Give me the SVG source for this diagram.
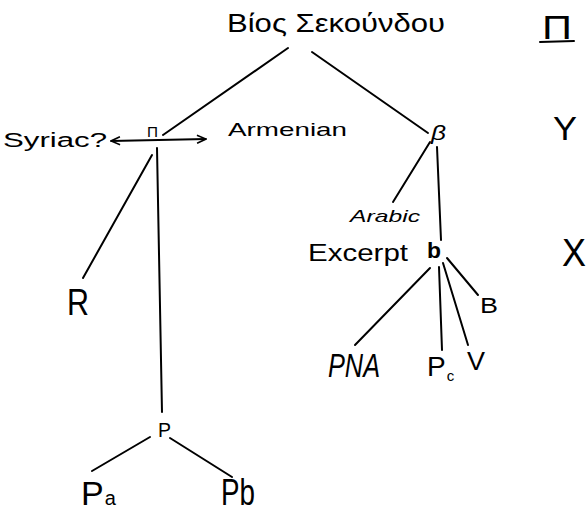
<svg xmlns="http://www.w3.org/2000/svg" width="588" height="514" viewBox="0 0 588 514">
<defs>
<style>
.t{font-family:"Liberation Sans","DejaVu Sans",sans-serif;fill:#000}
.i{font-style:italic}
.e{stroke:#000;stroke-width:2;fill:none;stroke-linecap:round}
</style>
<marker id="ah" viewBox="0 0 10 10" refX="10" refY="5" markerWidth="10" markerHeight="10" markerUnits="userSpaceOnUse" orient="auto-start-reverse">
<path d="M1,1 L10,5 L1,9" fill="none" stroke="#000" stroke-width="1.6"/>
</marker>
</defs>
<rect width="588" height="514" fill="#fff"/>
<g id="connectors">
<line class="e" x1="288" y1="48" x2="163" y2="135"/>
<line class="e" x1="312" y1="52" x2="428" y2="133"/>
<line class="e" x1="111" y1="141" x2="206" y2="139" marker-start="url(#ah)" marker-end="url(#ah)"/>
<line class="e" x1="152" y1="155" x2="83" y2="278"/>
<line class="e" x1="157" y1="148" x2="162" y2="412"/>
<line class="e" x1="150" y1="437" x2="92" y2="471"/>
<line class="e" x1="170" y1="438" x2="232" y2="477"/>
<line class="e" x1="430" y1="142" x2="393" y2="202"/>
<line class="e" x1="437" y1="147" x2="441" y2="240"/>
<line class="e" x1="430" y1="268" x2="355" y2="345"/>
<line class="e" x1="439" y1="267" x2="442" y2="350"/>
<line class="e" x1="443" y1="263" x2="468" y2="345"/>
<line class="e" x1="447" y1="258" x2="478" y2="295"/>
</g>
<g id="title"><text class="t" x="227" y="32" font-size="26" textLength="218" lengthAdjust="spacingAndGlyphs">Βίος Σεκούνδου</text></g>
<g id="node-pi"><text class="t" x="147" y="137" font-size="15" textLength="11" lengthAdjust="spacingAndGlyphs">Π</text></g>
<g id="syriac"><text class="t" x="3" y="147" font-size="20" textLength="104" lengthAdjust="spacingAndGlyphs">Syriac?</text></g>
<g id="armenian"><text class="t" x="228" y="136" font-size="19" textLength="119" lengthAdjust="spacingAndGlyphs">Armenian</text></g>
<g id="node-beta"><text class="t i" x="431" y="140" font-size="20" textLength="15" lengthAdjust="spacingAndGlyphs">β</text></g>
<g id="arabic"><text class="t i" x="350" y="222" font-size="17" textLength="70" lengthAdjust="spacingAndGlyphs">Arabic</text></g>
<g id="excerpt"><text class="t" x="308" y="261" font-size="24" textLength="100" lengthAdjust="spacingAndGlyphs">Excerpt</text></g>
<g id="node-b"><text class="t" x="427" y="258" font-size="22" font-weight="bold" textLength="14" lengthAdjust="spacingAndGlyphs">b</text></g>
<g id="R"><text class="t" x="67" y="315" font-size="36" textLength="22" lengthAdjust="spacingAndGlyphs">R</text></g>
<g id="P"><text class="t" x="158" y="437" font-size="20" textLength="13" lengthAdjust="spacingAndGlyphs">P</text></g>
<g id="Pa"><text class="t" x="81" y="505" font-size="34">P<tspan font-size="20" dx="1">a</tspan></text></g>
<g id="Pb"><text class="t" x="221" y="505" font-size="36" textLength="34" lengthAdjust="spacingAndGlyphs">Pb</text></g>
<g id="PNA"><text class="t i" x="328" y="377" font-size="33" textLength="52" lengthAdjust="spacingAndGlyphs">PNA</text></g>
<g id="Pc"><text class="t" x="427" y="376" font-size="28">P<tspan font-size="15" dy="5" dx="1">c</tspan></text></g>
<g id="V"><text class="t" x="467" y="370" font-size="25" textLength="18" lengthAdjust="spacingAndGlyphs">V</text></g>
<g id="B"><text class="t" x="480" y="313" font-size="22" textLength="18" lengthAdjust="spacingAndGlyphs">B</text></g>
<g id="margin-Pi"><text class="t" x="542" y="39" font-size="34" textLength="30" lengthAdjust="spacingAndGlyphs">Π</text><line class="e" x1="540" y1="42" x2="574" y2="41"/></g>
<g id="margin-Y"><text class="t" x="553" y="140" font-size="34" textLength="24" lengthAdjust="spacingAndGlyphs">Y</text></g>
<g id="margin-X"><text class="t" x="562" y="266" font-size="38" textLength="24" lengthAdjust="spacingAndGlyphs">X</text></g>
</svg>
